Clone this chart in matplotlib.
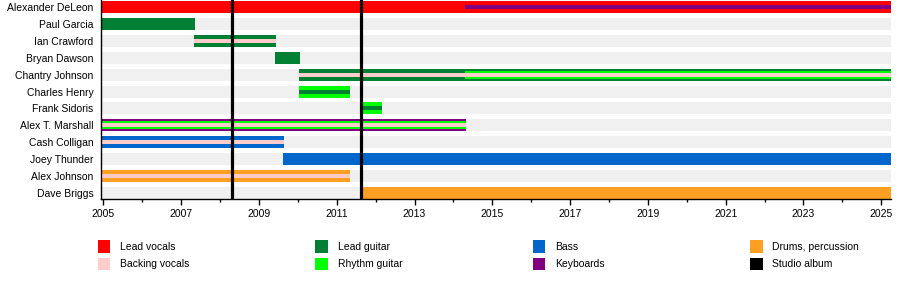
import matplotlib
matplotlib.use("Agg")
import matplotlib.pyplot as plt
from matplotlib.patches import Rectangle
from matplotlib.ticker import MultipleLocator


# ==========================================================
# DATA
# ==========================================================

members = [
    "Alexander DeLeon",
    "Paul Garcia",
    "Ian Crawford",
    "Bryan Dawson",
    "Chantry Johnson",
    "Charles Henry",
    "Frank Sidoris",
    "Alex T. Marshall",
    "Cash Colligan",
    "Joey Thunder",
    "Alex Johnson",
    "Dave Briggs",
]

roles = [
    "Lead vocals",
    "Backing vocals",
    "Lead guitar",
    "Rhythm guitar",
    "Bass",
    "Keyboards",
    "Drums, percussion",
    "Studio album",
]

role_colors = {
    "Lead vocals": "#ff0000",
    "Backing vocals": "#ffcccc",
    "Lead guitar": "#008033",
    "Rhythm guitar": "#00ff00",
    "Bass": "#0066cc",
    "Keyboards": "#800080",
    "Drums, percussion": "#ffa024",
    "Studio album": "#000000",
}

START = 2004.94
END = 2025.25

# main role of each member (full-height bar)
main_bars = [
    ("Alexander DeLeon", "Lead vocals", START, END),
    ("Paul Garcia", "Lead guitar", START, 2007.36),
    ("Ian Crawford", "Lead guitar", 2007.33, 2009.45),
    ("Bryan Dawson", "Lead guitar", 2009.42, 2010.06),
    ("Chantry Johnson", "Lead guitar", 2010.03, END),
    ("Charles Henry", "Rhythm guitar", 2010.03, 2011.35),
    ("Frank Sidoris", "Rhythm guitar", 2011.65, 2012.17),
    ("Alex T. Marshall", "Keyboards", START, 2014.33),
    ("Cash Colligan", "Bass", START, 2009.65),
    ("Joey Thunder", "Bass", 2009.62, END),
    ("Alex Johnson", "Drums, percussion", START, 2011.35),
    ("Dave Briggs", "Drums, percussion", 2011.65, END),
]

# second role (medium bar)
mid_bars = [
    ("Chantry Johnson", "Rhythm guitar", 2014.3, END),
    ("Alex T. Marshall", "Rhythm guitar", START, 2014.33),
]

# extra role (thin bar)
thin_bars = [
    ("Alexander DeLeon", "Keyboards", 2014.3, END),
    ("Ian Crawford", "Backing vocals", 2007.33, 2009.45),
    ("Chantry Johnson", "Backing vocals", 2010.03, END),
    ("Charles Henry", "Lead guitar", 2010.03, 2011.35),
    ("Frank Sidoris", "Lead guitar", 2011.65, 2012.17),
    ("Alex T. Marshall", "Backing vocals", START, 2014.33),
    ("Cash Colligan", "Backing vocals", START, 2009.65),
    ("Alex Johnson", "Backing vocals", START, 2011.35),
]

albums = [2008.31, 2011.62]


# ==========================================================
# FIGURE
# ==========================================================

FONT = "Liberation Sans"
W, H = 900, 288

fig = plt.figure(figsize=(9, 2.88), dpi=100)
ax = fig.add_axes([101 / W, (H - 199) / H, 790 / W, 199 / H])

PITCH = 16.9
FULL = 12 / PITCH
MID = 8 / PITCH
THIN = 4 / PITCH

row = {m: i for i, m in enumerate(members)}

# gray background rows
ax.barh(range(len(members)), END - START, left=START, height=FULL,
        color="#f0f0f0", linewidth=0)

for bars, h in [(main_bars, FULL), (mid_bars, MID), (thin_bars, THIN)]:
    for m, r, s, e in bars:
        ax.barh(row[m], e - s, left=s, height=h,
                color=role_colors[r], linewidth=0)

for a in albums:
    ax.axvline(a, color="black", linewidth=2.3, zorder=5)

ax.set_xlim(START, END)
ax.set_ylim(11 + (199 - 7 - 11 * PITCH) / PITCH, -7 / PITCH)

ax.set_yticks(range(len(members)))
ax.set_yticklabels(members, fontsize=7.5, family=FONT)
ax.tick_params(axis="y", length=0, pad=5.5)

ax.xaxis.set_major_locator(MultipleLocator(2))
ax.xaxis.set_minor_locator(MultipleLocator(1))
ax.set_xticks(range(2005, 2026, 2))
ax.set_xticklabels([str(y) for y in range(2005, 2026, 2)],
                   fontsize=7.5, family=FONT)
ax.tick_params(axis="x", which="major", length=4, width=1, pad=3)
ax.tick_params(axis="x", which="minor", length=2, width=1)

for side in ["top", "right"]:
    ax.spines[side].set_visible(False)
ax.spines["left"].set_linewidth(1)
ax.spines["bottom"].set_linewidth(1)


# ==========================================================
# LEGEND
# ==========================================================

for i, r in enumerate(roles):
    col = i // 2
    line = i % 2
    x0 = 97.5 + col * 217.5
    y0 = 240 + line * 17.5
    fig.add_artist(Rectangle((x0 / W, 1 - (y0 + 12.5) / H), 12.5 / W, 12.5 / H,
                             transform=fig.transFigure,
                             facecolor=role_colors[r], edgecolor="none"))
    fig.text((x0 + 22.5) / W, 1 - (y0 + 6.5) / H, r, fontsize=7.5,
             family=FONT, va="center", ha="left")

fig.savefig("out.png", dpi=100)
